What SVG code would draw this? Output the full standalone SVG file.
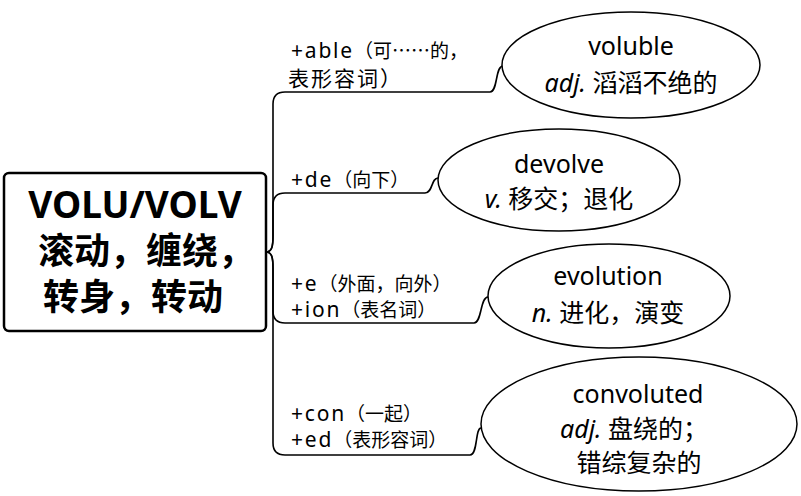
<svg xmlns="http://www.w3.org/2000/svg" width="801" height="496" viewBox="0 0 801 496">
<style>
.bg{fill:#fff}
.box{fill:#fff;stroke:#000;stroke-width:2.5}
.ell{fill:#fff;stroke:#000;stroke-width:1.5}
.con{fill:none;stroke:#000;stroke-width:1.6}
.t{font-family:"Noto Sans","Noto Sans CJK SC",sans-serif;fill:#000}
.c{font-weight:bold}
.lbl{font-size:19px}
.la{font-size:21px;letter-spacing:1.8px}
.cj{font-family:"Noto Sans CJK SC",sans-serif}
.w{font-size:25px;text-anchor:middle}
.i{font-style:italic}
</style>
<rect class="bg" x="0" y="0" width="801" height="496"/>
<g id="connectors">
<path class="con" d="M266,252 C272,252 273,246 273,236 L273,104 Q273,92 285,92 L490,92 C498,92 495,66 503,66"/>
<path class="con" d="M266,252 C272,252 273,246 273,236 L273,205 Q273,193 285,193 L425,193 C433,193 431,178 438,178"/>
<path class="con" d="M266,252 C272,252 273,258 273,268 L273,311 Q273,323 285,323 L474,323 C482,323 480,297 488,297"/>
<path class="con" d="M266,252 C272,252 273,258 273,268 L273,443 Q273,455 285,455 L470,455 C478,455 475,428 481,428"/>
</g>
<g id="root">
<rect class="box" x="4" y="173" width="262" height="158" rx="5"/>
<text class="t c" x="135" y="218" font-size="37" text-anchor="middle">VOLU/VOLV</text>
<text class="t c" x="38" y="264" font-size="36">滚动，缠绕，</text>
<text class="t c" x="43" y="310" font-size="36">转身，转动</text>
</g>
<g id="label1">
<text class="t lbl" x="291" y="58"><tspan class="la">+able</tspan>（可<tspan class="cj">……</tspan>的，</text>
<text class="t" x="288" y="86" font-size="21" letter-spacing="2">表形容词）</text>
</g>
<g id="label2">
<text class="t lbl" x="291" y="187"><tspan class="la">+de</tspan>（向下）</text>
</g>
<g id="label3">
<text class="t lbl" x="291" y="291"><tspan class="la">+e</tspan>（外面，向外）</text>
<text class="t lbl" x="291" y="317"><tspan class="la">+ion</tspan>（表名词）</text>
</g>
<g id="label4">
<text class="t lbl" x="291" y="421"><tspan class="la">+con</tspan>（一起）</text>
<text class="t lbl" x="291" y="447"><tspan class="la">+ed</tspan>（表形容词）</text>
</g>
<g id="voluble">
<ellipse class="ell" cx="631" cy="65" rx="129" ry="53"/>
<text class="t w" x="631" y="55">voluble</text>
<text class="t w" x="631" y="92"><tspan class="i">adj.</tspan> 滔滔不绝的</text>
</g>
<g id="devolve">
<ellipse class="ell" cx="559" cy="180" rx="121" ry="51"/>
<text class="t w" x="559" y="173">devolve</text>
<text class="t w" x="559" y="208"><tspan class="i">v.</tspan> 移交；退化</text>
</g>
<g id="evolution">
<ellipse class="ell" cx="609" cy="296" rx="121" ry="52"/>
<text class="t w" x="608" y="285">evolution</text>
<text class="t w" x="608" y="322"><tspan class="i">n.</tspan> 进化，演变</text>
</g>
<g id="convoluted">
<ellipse class="ell" cx="639" cy="424" rx="158" ry="67"/>
<text class="t w" x="638" y="403">convoluted</text>
<text class="t w" x="634" y="438"><tspan class="i">adj.</tspan> 盘绕的；</text>
<text class="t w" x="639" y="472">错综复杂的</text>
</g>
</svg>
